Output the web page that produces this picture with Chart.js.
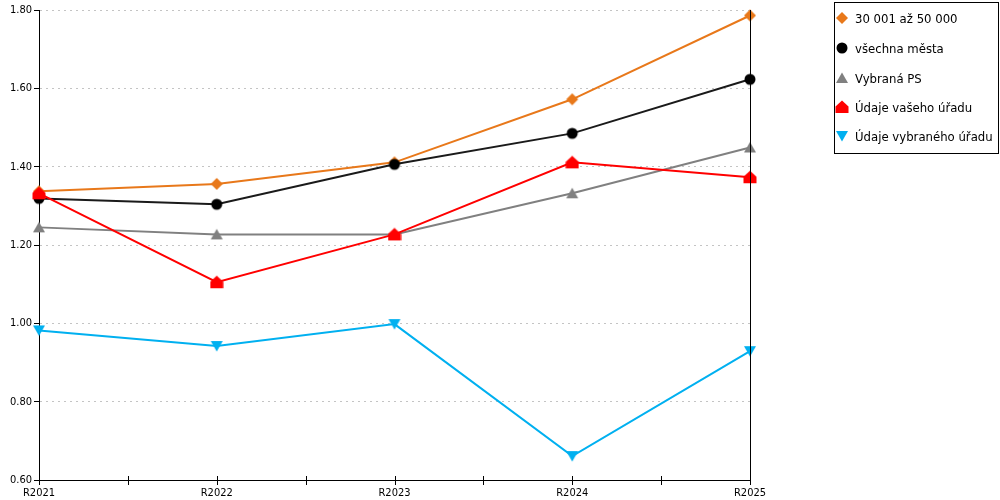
<!DOCTYPE html>
<html>
<head>
<meta charset="utf-8">
<script src="https://cdn.jsdelivr.net/npm/chart.js@4/dist/chart.umd.min.js"></script>
<style>
  body { margin: 0; background: #fff; }
  #wrap { position: relative; width: 1000px; height: 500px; }
  #legend {
    position: absolute; left: 834px; top: 2px; width: 163px; height: 150px;
    border: 1px solid #000; background: #fff;
    font: 13px "DejaVu Sans Condensed", "DejaVu Sans", sans-serif; color: #000;
  }
  .item { position: absolute; left: 0; height: 20px; display: flex; align-items: center; white-space: nowrap; }
  .item canvas { width: 14px; height: 14px; margin-right: 6px; }
</style>
</head>
<body>
<div id="wrap">
  <canvas id="chart" width="1000" height="500"></canvas>
  <div id="legend"></div>
</div>
<script>
// data
const years = ['R2021', 'R2022', 'R2023', 'R2024', 'R2025'];
const city30to50 = [1.337, 1.356, 1.411, 1.572, 1.786];
const allCities = [1.319, 1.304, 1.406, 1.485, 1.623];
const selectedPS = [1.245, 1.227, 1.227, 1.332, 1.449];
const yourOffice = [1.332, 1.105, 1.227, 1.411, 1.373];
const selectedOffice = [0.982, 0.942, 0.998, 0.661, 0.929];
const yTicks = [0.6, 0.8, 1.0, 1.2, 1.4, 1.6, 1.8];

const FONT = '"DejaVu Sans Condensed", "DejaVu Sans", sans-serif';

// small canvases used as point styles and legend symbols
function makeMarker(shape, color) {
  const c = document.createElement('canvas');
  c.width = 14; c.height = 14;
  const g = c.getContext('2d');
  g.fillStyle = color;
  g.beginPath();
  if (shape === 'diamond') {
    g.moveTo(7, 1); g.lineTo(13, 7); g.lineTo(7, 13); g.lineTo(1, 7);
  } else if (shape === 'circle') {
    g.arc(7, 7, 5.5, 0, Math.PI * 2);
  } else if (shape === 'triangle') {
    g.moveTo(7, 1.5); g.lineTo(13, 12); g.lineTo(1, 12);
  } else if (shape === 'house') {
    g.moveTo(7, 0.5); g.lineTo(13.5, 6.5); g.lineTo(13.5, 13); g.lineTo(0.5, 13); g.lineTo(0.5, 6.5);
  } else if (shape === 'down') {
    g.moveTo(1, 2); g.lineTo(13, 2); g.lineTo(7, 12.5);
  }
  g.closePath();
  g.fill();
  return c;
}

const series = [
  { label: '30 001 až 50 000', data: city30to50, color: '#e8781a', shape: 'diamond' },
  { label: 'všechna města', data: allCities, color: '#1a1a1a', marker: '#000', shape: 'circle' },
  { label: 'Vybraná PS', data: selectedPS, color: '#808080', shape: 'triangle' },
  { label: 'Údaje vašeho úřadu', data: yourOffice, color: '#ff0000', shape: 'house' },
  { label: 'Údaje vybraného úřadu', data: selectedOffice, color: '#00b0f0', shape: 'down' }
];

const datasets = series.map((s, i) => ({
  label: s.label,
  data: s.data,
  borderColor: s.color,
  borderWidth: 2,
  pointStyle: makeMarker(s.shape, s.marker || s.color),
  pointRadius: 6,
  tension: 0,
  fill: false,
  clip: false,
  order: series.length - i
}));

// tick marks crossing the x axis and the right frame line
const axisExtras = {
  id: 'axisExtras',
  afterDraw(chart) {
    const { ctx, chartArea: a, scales: { x } } = chart;
    ctx.save();
    ctx.strokeStyle = '#000';
    ctx.lineWidth = 1;
    ctx.beginPath();
    for (let i = 0; i <= years.length - 1; i += 0.5) {
      const px = Math.round(x.getPixelForValue(i)) + 0.5;
      ctx.moveTo(px, a.bottom - 4);
      ctx.lineTo(px, a.bottom + 5);
    }
    const rx = Math.round(a.right) + 0.5;
    ctx.moveTo(rx, a.top);
    ctx.lineTo(rx, a.bottom);
    ctx.stroke();
    ctx.restore();
  }
};

new Chart(document.getElementById('chart'), {
  type: 'line',
  data: { labels: years, datasets: datasets },
  options: {
    responsive: false,
    animation: false,
    layout: { padding: { top: 10, right: 250, left: 0, bottom: 0 } },
    plugins: { legend: { display: false }, tooltip: { enabled: false } },
    scales: {
      x: {
        type: 'category',
        offset: false,
        grid: { display: false, drawTicks: false },
        border: { color: '#000', width: 1 },
        ticks: { color: '#000', font: { family: FONT, size: 11 }, padding: 7, maxRotation: 0, autoSkip: false },
        afterFit(s) { s.height = 20; }
      },
      y: {
        min: yTicks[0],
        max: yTicks[yTicks.length - 1],
        afterBuildTicks(s) { s.ticks = yTicks.map(v => ({ value: v })); },
        ticks: { color: '#000', font: { family: FONT, size: 11 }, padding: 2, callback: v => v.toFixed(2) },
        grid: { color: '#c4c4c4', tickColor: '#000', tickLength: 5, tickBorderDash: [] },
        border: { color: '#000', width: 1, dash: [2, 4] },
        afterFit(s) { s.width = 39; }
      }
    }
  },
  plugins: [axisExtras]
});

// legend box
const legend = document.getElementById('legend');
const itemTops = [5, 35, 65, 94, 123];
series.forEach((s, i) => {
  const div = document.createElement('div');
  div.className = 'item';
  div.style.top = itemTops[i] + 'px';
  div.appendChild(makeMarker(s.shape, s.marker || s.color));
  const span = document.createElement('span');
  span.textContent = s.label;
  div.appendChild(span);
  legend.appendChild(div);
});
</script>
</body>
</html>
